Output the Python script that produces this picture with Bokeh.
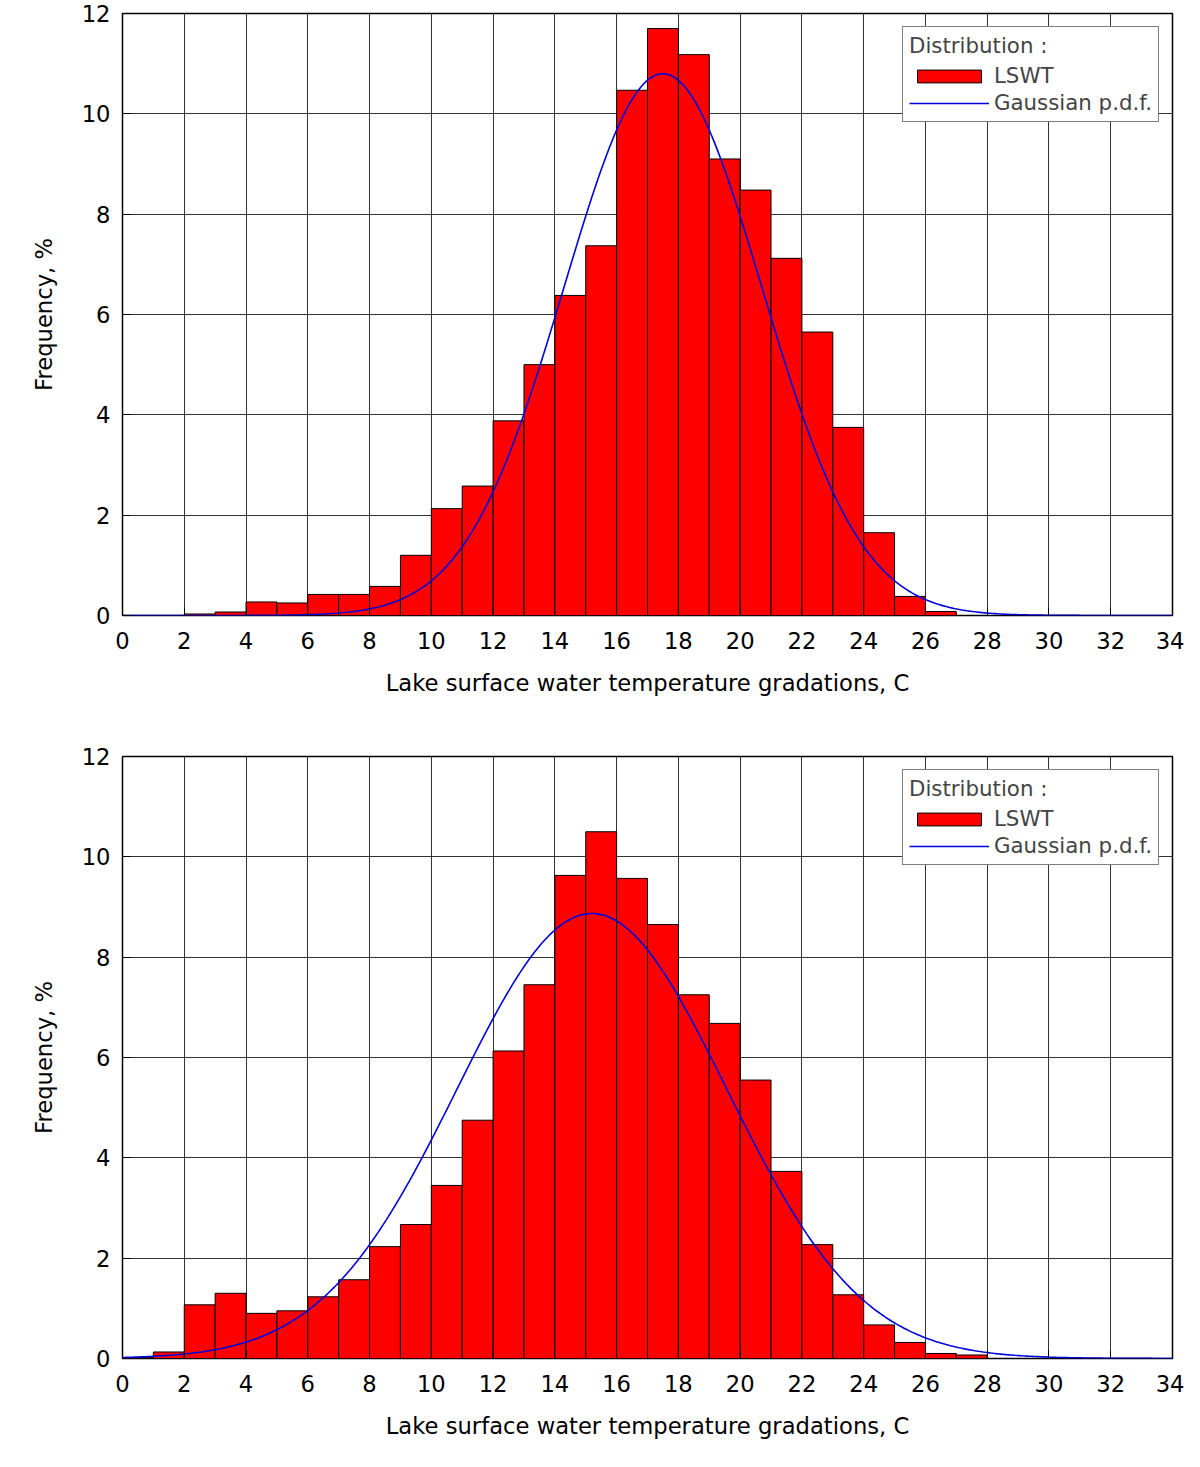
import numpy as np
from bokeh.plotting import figure
from bokeh.layouts import column
from bokeh.models import Legend, LegendItem, Label, FixedTicker
from bokeh.embed import file_html
from bokeh.resources import INLINE

# Panel (a)
a_left = list(range(2, 27))
a_freq = [0.03, 0.07, 0.27, 0.25, 0.42, 0.42, 0.58, 1.2, 2.13, 2.58, 3.88, 5.0, 6.38, 7.37,
          10.47, 11.7, 11.18, 9.1, 8.48, 7.12, 5.65, 3.75, 1.65, 0.38, 0.08]
a_mean, a_sigma, a_peak = 17.5, 3.2, 10.8

# Panel (b)
b_left = list(range(0, 28))
b_freq = [0.02, 0.13, 1.07, 1.3, 0.9, 0.95, 1.23, 1.57, 2.23, 2.67, 3.45, 4.75, 6.13, 7.45,
          9.63, 10.5, 9.57, 8.65, 7.25, 6.68, 5.55, 3.73, 2.27, 1.27, 0.67, 0.32, 0.1, 0.07]
b_mean, b_sigma, b_peak = 15.2, 4.36, 8.87

x_ticks = list(range(0, 35, 2))
y_ticks = list(range(0, 13, 2))
FONT = "DejaVu Sans"


def panel(tag, left, freq, mean, sigma, peak, border_top, border_bottom):
    p = figure(width=1184, height=border_top + 602 + border_bottom, x_range=(0, 34), y_range=(0, 12),
               output_backend="svg", toolbar_location=None,
               min_border_left=122, min_border_right=12, min_border_top=border_top,
               min_border_bottom=border_bottom)
    p.outline_line_color = "black"
    p.outline_line_width = 1.5
    for ax in (p.xaxis, p.yaxis):
        ax.major_label_text_font = FONT
        ax.major_label_text_font_size = "17pt"
        ax.axis_label_text_font = FONT
        ax.axis_label_text_font_size = "17pt"
        ax.axis_label_text_font_style = "normal"
        ax.axis_line_color = None
        ax.major_tick_in = 8
        ax.major_tick_out = 0
        ax.minor_tick_line_color = None
        ax.major_label_text_color = "black"
        ax.axis_label_text_color = "black"
    p.xaxis.major_label_standoff = 16
    p.xaxis.axis_label_standoff = 18
    p.yaxis.major_label_standoff = 12
    p.yaxis.axis_label_standoff = 22
    p.xaxis.ticker = FixedTicker(ticks=x_ticks)
    p.yaxis.ticker = FixedTicker(ticks=y_ticks)
    p.xaxis.axis_label = "Lake surface water temperature gradations, C"
    p.yaxis.axis_label = "Frequency, %"
    p.xgrid.ticker = FixedTicker(ticks=x_ticks)
    p.ygrid.ticker = FixedTicker(ticks=y_ticks)
    for g in (p.xgrid, p.ygrid):
        g.grid_line_color = "black"
        g.grid_line_alpha = 0.8
        g.grid_line_width = 1

    rights = [l + 1 for l in left]
    bars = p.quad(left=left, right=rights, bottom=0, top=freq, fill_color="#ff0000",
                  line_color="black", line_width=1)
    xs = np.linspace(0, 34, 400)
    ys = peak * np.exp(-(xs - mean) ** 2 / (2 * sigma ** 2))
    curve = p.line(xs, ys, line_color="#0000dd", line_width=1.6)

    leg = Legend(items=[LegendItem(label="LSWT", renderers=[bars]),
                        LegendItem(label="Gaussian p.d.f.", renderers=[curve])],
                 location="top_right", title="Distribution :")
    leg.title_text_font = FONT
    leg.title_text_font_size = "16pt"
    leg.title_text_font_style = "normal"
    leg.label_text_font = FONT
    leg.label_text_font_size = "16pt"
    leg.border_line_color = "black"
    leg.glyph_width = 80
    leg.glyph_height = 16
    leg.margin = 13
    leg.padding = 6
    leg.spacing = 2
    leg.background_fill_alpha = 1
    p.add_layout(leg)

    p.add_layout(Label(x=-3.75, y=11.95, text=tag, text_font=FONT, text_font_size="18pt",
                       text_font_style="bold", text_baseline="middle", text_color="black"))
    return p


pa = panel("(a)", a_left, a_freq, a_mean, a_sigma, a_peak, 13, 112)
pb = panel("(b)", b_left, b_freq, b_mean, b_sigma, b_peak, 29, 93)
layout = column(pa, pb, spacing=0)
open("out.html", "w").write(file_html(layout, INLINE))
